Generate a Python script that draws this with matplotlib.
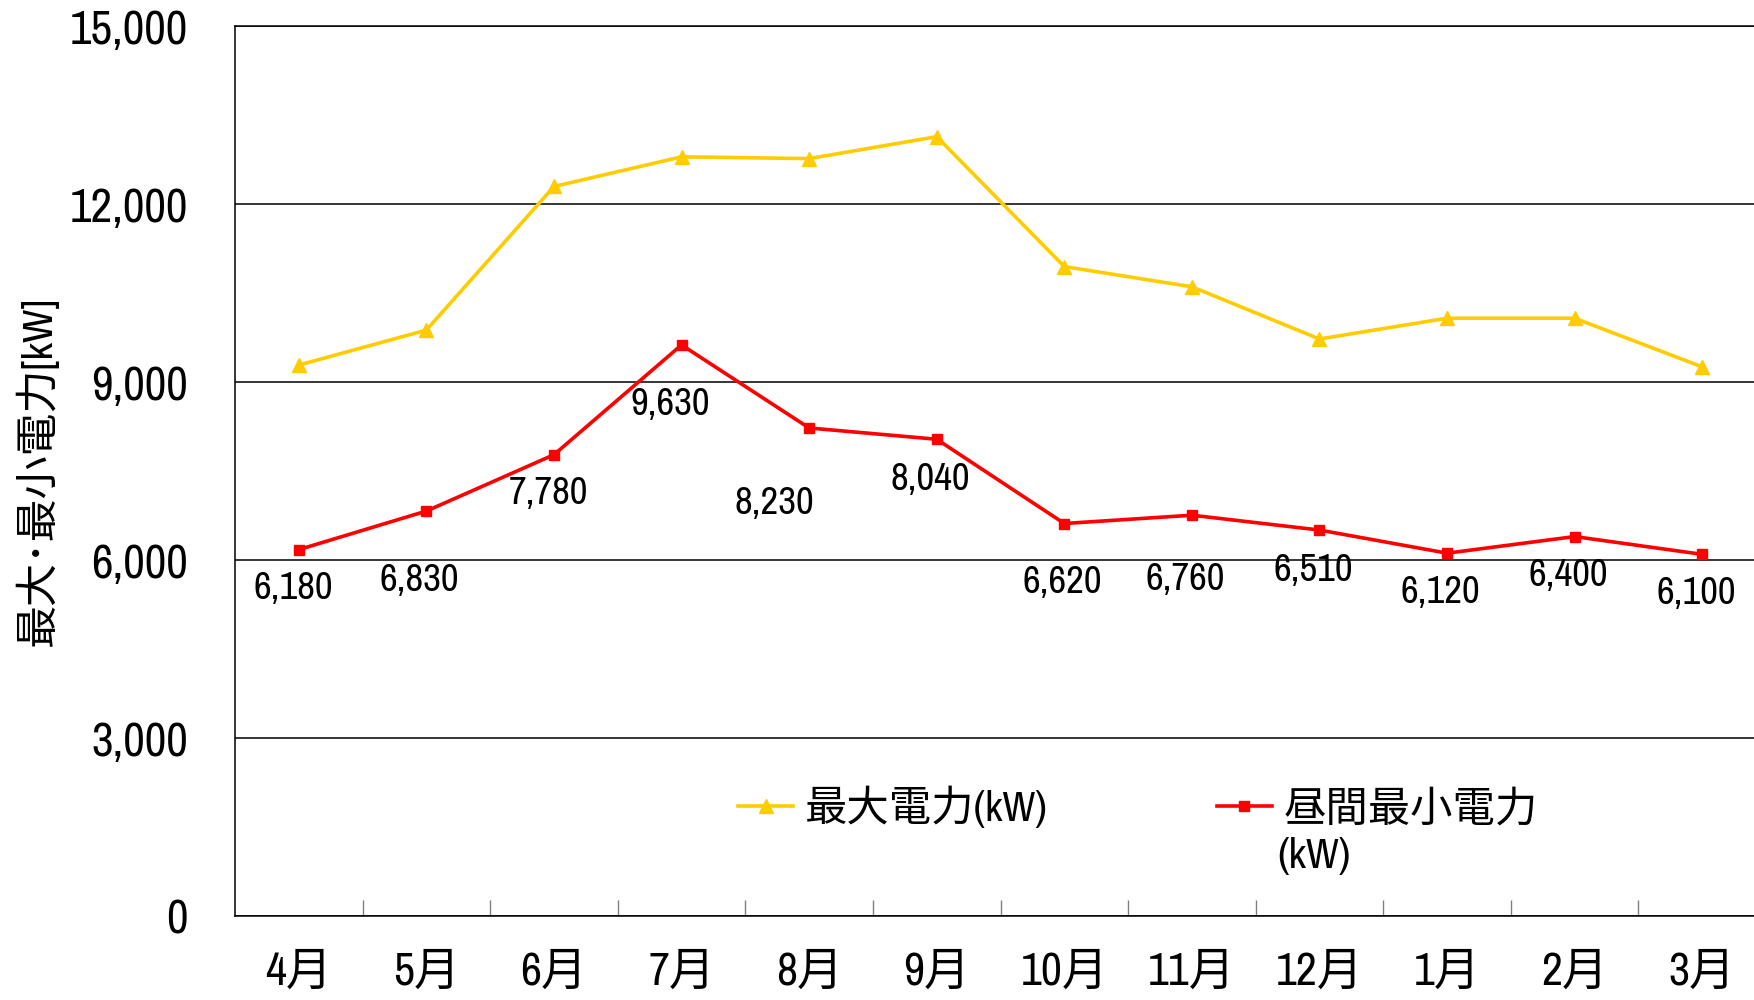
import matplotlib
matplotlib.use('Agg')
import matplotlib.pyplot as plt
from matplotlib.ticker import FuncFormatter

# data
months = ['4月', '5月', '6月', '7月', '8月', '9月', '10月', '11月', '12月', '1月', '2月', '3月']
max_power = [9290, 9880, 12300, 12800, 12770, 13140, 10950, 10610, 9730, 10080, 10080, 9260]
min_power = [6180, 6830, 7780, 9630, 8230, 8040, 6620, 6760, 6510, 6120, 6400, 6100]
yticks = [0, 3000, 6000, 9000, 12000, 15000]

# label offsets in pixels (hand placed like the original)
label_offsets = [(-6, -39), (-7, -69), (-6, -39), (-11, -60), (-35, -76), (-6, -40),
                 (-2, -59), (-7, -64), (-6, -40), (-7, -39), (-6, -39), (-6, -39)]

fonts = ['Archivo Narrow', 'Noto Sans CJK JP', 'DejaVu Sans']
plt.rcParams['font.family'] = fonts

fig = plt.figure(figsize=(17.54, 10), dpi=100)
ax = fig.add_axes([235 / 1754, 0.0837, 1531 / 1754, 0.89])

x = list(range(len(months)))
ax.plot(x, max_power, color='#FFCC00', lw=2.6, marker='^', ms=10, label='最大電力(kW)', zorder=3)
ax.plot(x, min_power, color='#FF0000', lw=2.6, marker='s', ms=7.5, label='昼間最小電力', zorder=3)

for i, v in enumerate(min_power):
    dx, dy = label_offsets[i]
    ax.annotate(f'{v:,}', (i, v), xytext=(dx, dy), textcoords='offset pixels',
                ha='center', va='center', fontsize=28, color='black')

ax.set_xlim(-0.5, len(months) - 0.5)
ax.set_ylim(0, 15000)
ax.set_yticks(yticks)
ax.yaxis.set_major_formatter(FuncFormatter(lambda v, p: f'{int(v):,}'))
ax.grid(axis='y', color='black', lw=1.1, zorder=1)
ax.set_axisbelow(True)

ax.set_xticks(x)
ax.set_xticklabels(months)
ax.set_xticks([i + 0.5 for i in range(len(months) - 1)], minor=True)
ax.tick_params(axis='x', which='major', length=0, pad=25, labelsize=33)
ax.tick_params(axis='x', which='minor', direction='in', length=11.5, width=1, color='#808080')
ax.tick_params(axis='y', length=0, pad=34, labelsize=34)

for s in ['left', 'bottom', 'top']:
    ax.spines[s].set_color('black')
    ax.spines[s].set_linewidth(1.1)
ax.spines['right'].set_visible(False)

fig.text(36 / 1754, 1 - 471 / 1000, '最大･最小電力[kW]', rotation=90,
         ha='center', va='center', fontsize=31)

leg = ax.legend(loc='center left', bbox_to_anchor=(738 / 1754, 1 - 807 / 1000),
                bbox_transform=fig.transFigure, ncol=2, frameon=False, fontsize=30.5,
                handlelength=1.3, handletextpad=0.27, columnspacing=4.0,
                borderpad=0, borderaxespad=0)
fig.text(1277 / 1754, 1 - 856 / 1000, '(kW)', ha='left', va='center', fontsize=30.5)

fig.savefig('out.png', dpi=100)
